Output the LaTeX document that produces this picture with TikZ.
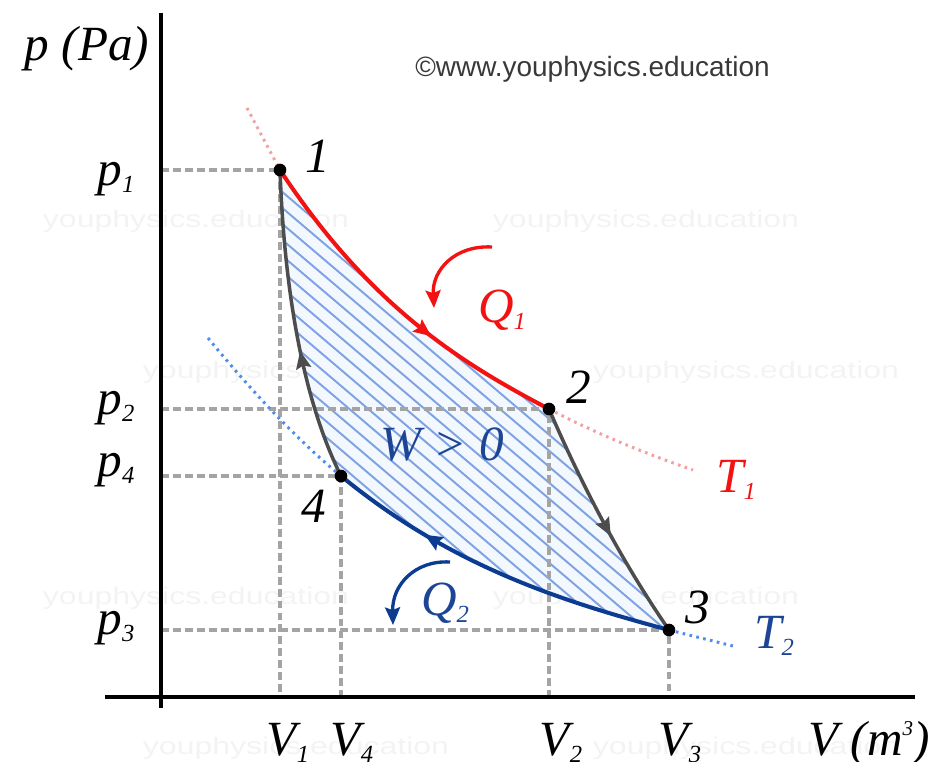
\documentclass[tikz,border=0pt]{standalone}
\usepackage{fontspec}
\setmainfont{Liberation Serif}
\setsansfont{Liberation Sans}
\usetikzlibrary{arrows.meta,decorations.markings}
\definecolor{cred}{HTML}{F21212}
\definecolor{lred}{HTML}{F2A0A0}
\definecolor{dblue}{HTML}{0C3C92}
\definecolor{tblue}{HTML}{1C4596}
\definecolor{lblue}{HTML}{4F8CF0}
\definecolor{hblue}{HTML}{7DA3E2}
\definecolor{hbg}{HTML}{F3F7FE}
\definecolor{adgray}{HTML}{4D4D4D}
\definecolor{dgray}{HTML}{A4A4A4}
\definecolor{wmgray}{HTML}{F3F3F3}
\newcommand{\sbs}[1]{\raisebox{-4.5pt}{\fontsize{14}{14}\selectfont #1}}
\newcommand{\sps}[1]{\raisebox{11pt}{\fontsize{12}{12}\selectfont #1}}
\tikzset{
  big/.style={font=\fontsize{28}{28}\selectfont\itshape, inner sep=0pt, anchor=base},
  wm/.style={font=\sffamily\fontsize{13.7}{14}\selectfont, text=wmgray, inner sep=0pt, anchor=base},
  dashln/.style={draw=dgray, line width=1.8pt, dash pattern=on 4.5pt off 2.3pt},
  axisln/.style={line width=2pt, black},
  dot/.style={circle, fill=black, minimum size=7.2pt, inner sep=0pt},
  arrowat/.style={postaction={decorate}, decoration={markings, mark=at position #1 with {\arrow{Stealth[length=10pt,width=8.5pt,inset=1.5pt]}}}},
  isoone/.style={draw=cred, line width=2.3pt},
  isotwo/.style={draw=dblue, line width=2.3pt},
  adiab/.style={draw=adgray, line width=2pt},
  dotred/.style={draw=lred, line width=1.7pt, dash pattern=on 1.5pt off 2.5pt},
  dotblue/.style={draw=lblue, line width=1.7pt, dash pattern=on 1.5pt off 2.5pt},
  hatchln/.style={draw=hblue, line width=1.1pt},
  qarrow/.style={line width=1.9pt, -{Stealth[length=10pt,width=8.5pt,inset=1.5pt]}}
}
\begin{document}
\begin{tikzpicture}[x=0.02cm,y=-0.02cm]
\useasboundingbox (0,0) rectangle (928,761);
% watermarks
\foreach \wx/\wy in {196/227,646/227,296/378,746/378,196/604,646/604,296/754,746/754}
  \node[wm] at (\wx,\wy) {\scalebox{1.33}[1]{youphysics.education}};
% points
\coordinate (P1) at (280,170);
\coordinate (P2) at (549,409);
\coordinate (P3) at (669,630);
\coordinate (P4) at (341,476);
\coordinate (yTop) at (161,13);
\coordinate (yBot) at (161,708);
\coordinate (xL) at (105,697);
\coordinate (xR) at (915,697);
% hatched region
\begin{scope}
  \clip (P1) .. controls (369.67,305.85) and (459.33,362.17) .. (P2)
        .. controls (585.1,492.9) and (625.1,566.3) .. (P3)
        .. controls (559.67,600.63) and (450.33,565.71) .. (P4)
        .. controls (307.1,408) and (284.8,306) .. (P1) -- cycle;
  \fill[hbg] (200,100) rectangle (720,700);
  \foreach \c in {-80,-64,...,210}
    \draw[hatchln] (200,{\c+170}) -- (720,{\c+612});
\end{scope}
% dashed guides
\draw[dashln] (P1 -| yTop) -- (P1) -- (P1 |- xL);
\draw[dashln] (P2 -| yTop) -- (P2) -- (P2 |- xL);
\draw[dashln] (P4 -| yTop) -- (P4) -- (P4 |- xL);
\draw[dashln] (P3 -| yTop) -- (P3) -- (P3 |- xL);
% isotherm extensions
\coordinate (T1a) at (247,108);
\coordinate (T1b) at (693,470);
\coordinate (T2a) at (208,338);
\coordinate (T2b) at (733,646);
\draw[dotred] (T1a) -- (P1);
\draw[dotred] (P2) .. controls (597,434) and (645,453.3) .. (T1b);
\draw[dotblue] (T2a) .. controls (256.7,397.2) and (301,443.2) .. (P4);
\draw[dotblue] (P3) -- (T2b);
% cycle
\draw[isoone, arrowat=0.62] (P1) .. controls (369.67,305.85) and (459.33,362.17) .. (P2);
\draw[adiab, arrowat=0.56] (P2) .. controls (585.1,492.9) and (625.1,566.3) .. (P3);
\draw[isotwo, arrowat=0.72] (P3) .. controls (559.67,600.63) and (450.33,565.71) .. (P4);
\draw[adiab, arrowat=0.42] (P4) .. controls (307.1,408) and (284.8,306) .. (P1);
% axes
\draw[axisln] (yTop) -- (yBot);
\draw[axisln] (xL) -- (xR);
% dots
\node[dot] (d1) at (P1) {};
\node[dot] (d2) at (P2) {};
\node[dot] (d3) at (P3) {};
\node[dot] (d4) at (P4) {};
% heat arrows
\coordinate (q1s) at (492,247);
\coordinate (q1e) at (434,308);
\draw[qarrow, cred] (q1s) .. controls (455,245) and (432,270) .. (q1e);
\coordinate (q2s) at (450,562);
\coordinate (q2e) at (393,625);
\draw[qarrow, dblue] (q2s) .. controls (415,560) and (392,585) .. (q2e);
% labels
\node[big] (lp) at (87,60) {p (Pa)};
\node[anchor=base west, inner sep=0pt, font=\sffamily\fontsize{15.9}{16}\selectfont, text=black!78] (copy) at (415,76) {©www.youphysics.education};
\node[big] (lp1) at (116,185) {p\sbs{1}};
\node[big] (lp2) at (116,414) {p\sbs{2}};
\node[big] (lp4) at (116,476) {p\sbs{4}};
\node[big] (lp3) at (116,634) {p\sbs{3}};
\node[big] (lv1) at (288,755) {V\sbs{1}};
\node[big] (lv4) at (352,755) {V\sbs{4}};
\node[big] (lv2) at (561,755) {V\sbs{2}};
\node[big] (lv3) at (680,755) {V\sbs{3}};
\node[big] (lv) at (869,755) {V (m\sps{3})};
\node[big] (n1) at (318,172) {1};
\node[big] (n2) at (579,403) {2};
\node[big] (n3) at (698,623) {3};
\node[big] (n4) at (314,522) {4};
\node[big, text=cred] (lq1) at (502,322) {Q\sbs{1}};
\node[big, text=tblue] (lq2) at (445,615) {Q\sbs{2}};
\node[big, text=cred] (lt1) at (736,492) {T\sbs{1}};
\node[big, text=tblue] (lt2) at (774,648) {T\sbs{2}};
\node[big, text=tblue] (lw) at (442,460) {W > 0};
\end{tikzpicture}
\end{document}
